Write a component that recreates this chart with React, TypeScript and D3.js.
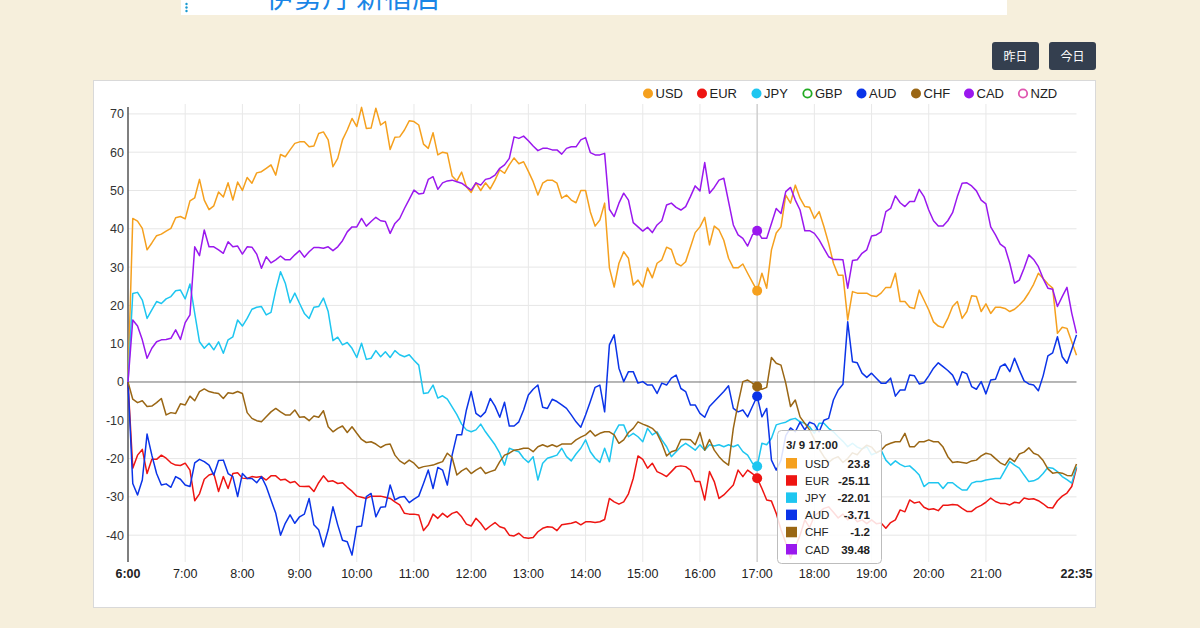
import React from 'react';
import * as d3 from 'd3';

// Currency strength index, 5-minute samples from 6:00 to 22:35 on 3/9
const START = new Date(2024, 2, 9, 6, 0);
const STEP_MINUTES = 5;
const SAMPLE_COUNT = 200;
const TIMES = d3.range(SAMPLE_COUNT).map((i) => d3.timeMinute.offset(START, i * STEP_MINUTES));

const USD = [
  0, 42.7, 42, 40.1, 34.5, 36.3, 38.2, 38.6, 39.4, 40.1, 42.9, 43.2,
  42.6, 47.3, 48.1, 52.9, 47.5, 45, 46, 49.6, 48.3, 52, 47.5, 52.2,
  50, 53.4, 51.9, 54.6, 54.9, 55.8, 56.7, 54, 59.4, 58.8, 60.6, 62.3,
  62.7, 62.7, 61.4, 61.6, 64.9, 65.3, 63.2, 56.2, 58.4, 63.2, 65.8, 68.8,
  66.7, 71.7, 66.2, 66.3, 71.5, 67.1, 68, 60.7, 63.9, 64, 65.8, 68.2,
  68, 67.1, 62.1, 61, 65.1, 59.3, 60, 59.7, 53.8, 52.5, 54.8, 51,
  49.5, 52, 50, 52, 50.4, 52.7, 55.4, 54.5, 56.7, 58.5, 57, 57.5,
  55, 52.3, 48.8, 51.9, 52.7, 52.7, 51.9, 48, 48.8, 47.5, 46.8, 50,
  50, 44.4, 40.7, 42.3, 46.7, 29.8, 24.8, 31, 34, 32.3, 25.3, 26.6,
  24.8, 29.8, 27.2, 31, 31.9, 35.2, 34.6, 31, 30.3, 31.4, 35.2, 39,
  40.5, 43, 35.8, 40.7, 39.7, 37, 32.3, 29.8, 29.8, 30.8, 28.4, 26.1,
  23.8, 28.4, 24.5, 34.5, 38.9, 40.5, 48.8, 46.7, 51.4, 48, 45.8, 45.6,
  42.7, 44.5, 40.6, 36.2, 31, 27.9, 27.9, 16.2, 23.6, 23.2, 23.2, 23.2,
  22.5, 22.3, 23.2, 24.7, 24.7, 28.4, 21, 21, 19.5, 19.2, 24, 21.4,
  18.8, 15.7, 14.6, 14.2, 16.6, 19.7, 21, 16.6, 18.4, 22.5, 22.3, 18.4,
  20.4, 17.9, 19.5, 19.5, 19.2, 18.4, 19, 20.1, 21.4, 23.3, 25.5, 28.4,
  27, 25.6, 24.5, 12.7, 14.3, 14, 10.5, 7,
];

const EUR = [
  0, -22.5, -19.1, -17.6, -23.9, -20.2, -20.2, -19.1, -19.9, -21.1, -21.7, -21.8,
  -21.2, -23, -31, -29.2, -25.4, -24.3, -23.9, -28.6, -24.7, -27.8, -23.9, -23.7,
  -25.1, -25.2, -24.7, -24.9, -24.7, -25.6, -24.5, -24.5, -25.6, -25.4, -26.3, -26,
  -27.2, -27.3, -27.2, -28.6, -26.3, -24.5, -26, -25.8, -26.5, -26.3, -27.5, -28.5,
  -29.8, -30.1, -30.4, -29.8, -29.8, -29.8, -30.1, -30.4, -31.3, -32.1, -34.3, -34.5,
  -34.5, -34.7, -38.8, -37.3, -34.5, -35.6, -34.3, -35.3, -34.3, -33.9, -35.2, -37.1,
  -37.6, -35.6, -36.9, -38.6, -37.6, -36.7, -37.8, -38.2, -40, -40.2, -39.5, -40.6,
  -40.8, -40.6, -39.1, -38.2, -37.8, -37.9, -38.8, -37.3, -37.1, -36.9, -36.5, -37.3,
  -36.5, -36.5, -36.7, -36.5, -35.9, -30.4, -31.3, -31.9, -31.3, -29.2, -25.2, -19.3,
  -20.2, -22.5, -21.2, -23.4, -24, -24.7, -23.4, -22.1, -21.9, -22.1, -23, -26,
  -26, -30.8, -23.4, -26, -30.4, -29.5, -28.2, -26.9, -23, -24.7, -23, -23.9,
  -25.11, -27.8, -30.8, -31.1, -34.3, -38.6, -42, -46, -43, -40, -36, -38,
  -35, -34, -33, -32.6, -34, -35.5, -34.5, -36, -35, -36.5, -36, -37,
  -36, -37, -36.8, -38.2, -36.7, -36, -33.4, -33.9, -30.8, -31.6, -31.3, -32.7,
  -33.3, -33.1, -33.6, -32.2, -32.2, -32, -32.1, -33, -33.8, -33.8, -32.8, -32.2,
  -31.4, -30.3, -31.2, -31.7, -31.7, -32.1, -31.4, -31.6, -30.3, -30.6, -30.5, -31,
  -31.8, -32.8, -32.9, -31, -29.8, -29, -27.3, -22.5,
];

const JPY = [
  0, 23.1, 23.4, 21.4, 16.6, 18.8, 21, 20.5, 21.7, 22.3, 23.8, 24,
  21.7, 25.6, 17.9, 10.5, 8.8, 10.1, 8.4, 10.5, 7.5, 11, 11.8, 16.2,
  14.6, 16.6, 19, 19.5, 19.7, 17.5, 18.2, 24, 28.8, 25.8, 20.7, 23.2,
  20.5, 17.9, 16.6, 19.5, 19.7, 21.9, 18.4, 10.8, 11.7, 9.7, 10.3, 8.8,
  6.4, 10.1, 5.9, 6.2, 8.2, 6.6, 7.9, 6.4, 8.2, 7.1, 6.6, 7.1,
  5.7, 4.4, -3, -2.8, -0.8, -4.2, -3.6, -4.5, -6.5, -8.5, -11, -12.5,
  -13, -12.5, -11, -13, -14.7, -16.4, -18.6, -21.7, -17.3, -17.8, -18.2, -19.9,
  -21, -19.5, -25.6, -21.2, -19.9, -19.5, -19.1, -17.3, -19.5, -20.6, -18.8, -17.3,
  -15.1, -18.2, -19.9, -21, -17.3, -20.8, -13.4, -11.2, -11.2, -14.3, -13.4, -14.3,
  -15.6, -12.1, -13.8, -13, -15.1, -16.9, -19.5, -18.2, -16.9, -16, -16.9, -17.8,
  -16.4, -17.8, -16.4, -16.7, -16.4, -16.9, -16.4, -16.9, -16.4, -18.2, -19.1, -21.2,
  -22.01, -16, -16.4, -14.7, -11.2, -10.8, -10.5, -9.8, -9.5, -10.4, -10.8, -11.7,
  -13.4, -10.8, -10.8, -12.1, -13, -14.3, -15.5, -16.9, -16, -17, -17.5, -16.9,
  -19, -18.5, -17.8, -20.4, -21.7, -20.6, -21.5, -22.1, -21.9, -23, -24.3, -27.3,
  -26.3, -26.3, -26.3, -27.8, -26.3, -26.3, -27.3, -28.2, -28.2, -26.4, -26, -26,
  -25.6, -25.4, -25.2, -25.2, -23, -20.8, -21.7, -22.5, -24.3, -26, -25.8, -25.2,
  -23.9, -22.3, -22.5, -23.4, -24.7, -25.5, -26.4, -22.1,
];

const AUD = [
  0, -26.5, -29.5, -25.6, -13.6, -19.1, -23.9, -26.9, -26.6, -27.5, -24.7, -25.4,
  -26.9, -27.3, -21.1, -20.2, -20.8, -21.7, -24.3, -20.5, -20.4, -23.9, -24.7, -29.9,
  -23.9, -25.2, -25.2, -26.3, -24.7, -27.3, -30.8, -34.3, -40, -36.9, -34.7, -36.9,
  -35.2, -34.5, -30.4, -37.3, -38.6, -43, -38.6, -32.6, -37.3, -41.3, -41.7, -45.2,
  -37.8, -37.6, -29.9, -29.1, -35.2, -32.7, -32.6, -26.9, -30.8, -30.1, -29.9, -31.5,
  -30.6, -29.8, -26.5, -23, -27.8, -22.3, -23, -26.9, -19.1, -13.8, -13.8, -7.3,
  -2.5, -8.2, -9.1, -7.8, -4.3, -6.3, -9.2, -5.3, -11.5, -11.5, -10.4, -7.3,
  -3.4, -1.9, -0.8, -6.6, -6.9, -4.5, -5.1, -6, -6.9, -8.6, -10.4, -11.8,
  -8.6, -5.1, -1.4, -0.8, -7.8, 9.7, 12.3, 3.6, 0.1, 2.7, 2.7, -0.3,
  0.1, -0.8, -0.8, -3, -0.3, -0.8, 1, 1.8, -1.7, -2.5, -6, -6,
  -8.2, -9.2, -6.4, -5.1, -3.8, -2.5, -1, -6.9, -7.8, -7.3, -9.1, -6.4,
  -3.71, -9.1, -6.9, -20.4, -23, -20.4, -14, -12, -13, -10.5, -12.5, -10.5,
  -11, -13, -10, -9.5, -4.7, -2.1, -0.6, 15.7, 5.3, 5, 2.3, 1.2,
  2.3, 1, -0.3, -0.3, 1, -3.7, -2.1, -2.1, 1.8, 1.6, -0.5, -0.2,
  1.6, 3.6, 5, 4, 3, 1.8, -0.8, 2.7, 2.1, -1.2, -1.9, 0.1,
  -3.1, 0.5, 0.7, 4, 4.7, 2.7, 6.2, 3.1, 0.3, -0.5, -0.8, -2.3,
  1.6, 6.8, 7.6, 11.8, 6.6, 4.9, 8.5, 12.3,
];

const CHF = [
  0, -4.5, -5.4, -4.9, -6.4, -6.3, -5.4, -4.3, -8.6, -8, -8.2, -5.7,
  -6, -3.7, -4.9, -2.5, -1.8, -2.5, -2.8, -3, -4.3, -2.8, -3, -2.5,
  -3, -8, -9.5, -10.1, -10.4, -9.1, -7.8, -6.9, -7.8, -8.6, -8.6, -7.3,
  -9.2, -9.1, -10.1, -8.9, -9.2, -7.5, -11.7, -13, -12.1, -11.5, -13.2, -11.7,
  -13.4, -15, -15.8, -15.6, -16.2, -17.1, -16.4, -16.2, -19.1, -20.6, -21.4, -20.4,
  -21.2, -22.5, -22.1, -21.9, -21.7, -21.2, -20.8, -18.6, -19.7, -24.3, -23.2, -22.5,
  -23.9, -23, -22.3, -23.9, -23.4, -23, -20.8, -19.1, -18.6, -17.8, -17.6, -17.3,
  -17.3, -18.2, -16.9, -16.4, -16.9, -16.4, -16.9, -16.2, -16.2, -16.2, -15.1, -14.4,
  -13.8, -12.7, -14.1, -13.4, -13, -13, -13.8, -16, -15.1, -13.2, -12.1, -10.4,
  -11, -11.5, -12.1, -13.4, -16, -19.3, -18.2, -17.8, -15, -15, -15.1, -16.4,
  -13.2, -17.8, -15, -17.8, -19.5, -20.8, -21.7, -12.1, -5.6, 0.1, 0.5, -0.3,
  -1.2, -1.9, -1.4, 6.4, 4.9, 4.4, -0.3, -6.4, -4.7, -9.1, -10.8, -12.5,
  -15, -17.5, -19.5, -21, -20, -19.5, -21, -20, -18.5, -19, -17.5, -16.5,
  -17, -18.5, -17.8, -16.5, -16, -15.6, -15.6, -13.4, -16.9, -16.9, -15.6, -15.6,
  -15.1, -15.6, -15.6, -17, -19.5, -21, -20.8, -21, -21.2, -20.6, -20.4, -19.3,
  -18.6, -18.9, -20, -21.1, -21.7, -19.9, -20.8, -18.8, -18.3, -17.2, -18.6, -19.1,
  -20.5, -22.7, -23.8, -23.6, -23.8, -24.4, -24.5, -21.4,
];

const CAD = [
  0, 16.2, 14.6, 11, 6.2, 8.8, 10.5, 11, 11.1, 11.4, 13.6, 11.1,
  15.5, 17.5, 35.3, 33, 39.7, 35.3, 35.3, 34.5, 33.6, 36.6, 35.3, 35.5,
  33.4, 35.3, 35.2, 33.4, 29.7, 32.7, 31.1, 31.9, 32.9, 31.9, 31.9, 33.2,
  34.3, 32.6, 34, 35.1, 35.1, 34.9, 35.3, 34.3, 35.3, 36.9, 39.2, 40.5,
  40.5, 42.7, 40.7, 41.9, 43, 42.1, 41.9, 38.8, 41.4, 42.7, 45.3, 47.7,
  50.1, 49.1, 49.3, 52.9, 53.6, 50.3, 52, 52.5, 52.7, 52.3, 51.9, 51,
  50.1, 52, 51.4, 52.9, 53.2, 54, 55.8, 56.7, 58.4, 64, 63.6, 64.2,
  63, 61.6, 60.4, 61, 61, 60.6, 60.6, 59.5, 61, 61.4, 61.4, 63.2,
  63.8, 59.9, 59.3, 59.3, 59.7, 45.1, 43.2, 46.7, 49.3, 47.5, 41.6, 40.5,
  39.4, 40.4, 39, 41, 42.1, 46.2, 46.7, 45.6, 44.9, 45.8, 48.4, 51.2,
  49.9, 57.3, 49.3, 50.8, 52.7, 53.2, 47.1, 41, 38.4, 37.5, 35.5, 38.4,
  39.48, 37.5, 37.5, 41.4, 45.3, 44, 49.7, 50.8, 47.5, 44.9, 39.5, 39.5,
  38.8, 37.1, 34.9, 32.7, 32, 32, 31.9, 24.5, 31.7, 31.9, 33.6, 34.5,
  38.1, 38.4, 39.2, 44.5, 45.3, 48.6, 46.8, 45.8, 47.1, 47.1, 50.3, 48.4,
  44.9, 42.1, 40.7, 40.7, 42.1, 44.2, 48.4, 51.9, 52, 51.2, 49.9, 47.5,
  46.5, 40.5, 38.4, 36, 35.1, 31, 25.8, 26.6, 29.7, 33.2, 32, 30.1,
  27, 24.5, 24.2, 19.7, 22.3, 24.7, 18, 12.7,
];

const LEGEND_NAMES = ['USD', 'EUR', 'JPY', 'GBP', 'AUD', 'CHF', 'CAD', 'NZD'];
const HOLLOW_NAMES = ['GBP', 'NZD'];
const COLORS: Record<string, string> = {
  USD: '#f5a01e',
  EUR: '#ee1512',
  JPY: '#1ec6f0',
  GBP: '#22aa22',
  AUD: '#0b34e8',
  CHF: '#9a6614',
  CAD: '#9a18ee',
  NZD: '#e055b0',
};

const SERIES = [
  { name: 'USD', values: USD },
  { name: 'EUR', values: EUR },
  { name: 'JPY', values: JPY },
  { name: 'AUD', values: AUD },
  { name: 'CHF', values: CHF },
  { name: 'CAD', values: CAD },
];

const X_TICK_LABELS = [
  '6:00', '7:00', '8:00', '9:00', '10:00', '11:00', '12:00', '13:00', '14:00',
  '15:00', '16:00', '17:00', '18:00', '19:00', '20:00', '21:00', '22:35',
];
const BOLD_X_LABELS = ['6:00', '22:35'];
const Y_TICKS = [70, 60, 50, 40, 30, 20, 10, 0, -10, -20, -30, -40];
const Y_DOMAIN = [-47, 71.8];

const HOVER_LABEL = '3/ 9 17:00';
const HOVER_TIME = '17:00';

const TITLE = '伊勢丹 新宿店';
const BUTTONS = ['昨日', '今日'];

const FONT = '"Liberation Sans", Arial, Helvetica, sans-serif';
const CJK = '"Noto Sans CJK JP", "Noto Sans", sans-serif';

const parseClock = (s: string) => {
  const [h, m] = s.split(':').map(Number);
  return new Date(2024, 2, 9, h, m);
};

export default function App() {
  const W = 1200;
  const H = 628;
  const plot = { left: 128, right: 1076.5, top: 107, bottom: 562 };

  const x = d3.scaleTime().domain([TIMES[0], TIMES[SAMPLE_COUNT - 1]]).range([plot.left, plot.right]);
  const y = d3.scaleLinear().domain(Y_DOMAIN).range([plot.bottom, plot.top]);

  const line = d3
    .line<number>()
    .x((_, i) => x(TIMES[i]))
    .y((d) => y(d));

  const hoverDate = parseClock(HOVER_TIME);
  const hoverIndex = TIMES.findIndex((t) => t.getTime() === hoverDate.getTime());
  const hx = x(hoverDate);

  const gridHours = X_TICK_LABELS.slice(1, -1).map(parseClock);

  // tooltip box
  const tip = { x: 777.5, y: 430.5, w: 104, h: 133 };
  const rowY = (i: number) => tip.y + 33 + i * 17.2;

  return (
    <svg
      width={W}
      height={H}
      viewBox={`0 0 ${W} ${H}`}
      style={{ position: 'absolute', left: 0, top: 0, display: 'block' }}
    >
      <rect x={0} y={0} width={W} height={H} fill="#f6efdc" />

      {/* page header strip, scrolled so only the foot of the store name shows */}
      <rect x={181} y={0} width={826} height={15} fill="#ffffff" />
      {[4, 7.5, 11].map((cy) => (
        <circle key={cy} cx={186.5} cy={cy} r={1.2} fill="#1a9ad0" />
      ))}
      <text x={266} y={7.5} fontSize={28} fill="#1a86e6" fontFamily={CJK}>
        {TITLE}
      </text>

      {/* day buttons */}
      {BUTTONS.map((b, i) => {
        const bx = 992 + i * 57;
        return (
          <g key={b}>
            <rect x={bx} y={42} width={47} height={28} rx={3} fill="#343f4f" />
            <text x={bx + 23.5} y={60.5} fontSize={12} fill="#ffffff" textAnchor="middle" fontFamily={CJK}>
              {b}
            </text>
          </g>
        );
      })}

      {/* chart panel */}
      <rect x={93.5} y={80.5} width={1002} height={527} fill="#ffffff" stroke="#d9d9d9" />

      {/* legend */}
      {LEGEND_NAMES.map((n, i) => {
        const lx = [648, 702, 756.5, 807.5, 861.5, 916, 969, 1023][i];
        const hollow = HOLLOW_NAMES.includes(n);
        return (
          <g key={n}>
            <circle
              cx={lx}
              cy={93.5}
              r={hollow ? 4.2 : 5}
              fill={hollow ? '#ffffff' : COLORS[n]}
              stroke={hollow ? COLORS[n] : 'none'}
              strokeWidth={hollow ? 1.8 : 0}
            />
            <text x={lx + 7.5} y={98} fontSize={13} fill="#222" fontFamily={FONT}>
              {n}
            </text>
          </g>
        );
      })}

      {/* grid */}
      {Y_TICKS.filter((t) => t !== 0).map((t) => (
        <line key={t} x1={plot.left} x2={plot.right} y1={y(t)} y2={y(t)} stroke="#e6e6e6" strokeWidth={1} />
      ))}
      {gridHours.map((d) => (
        <line key={d.getTime()} x1={x(d)} x2={x(d)} y1={plot.top - 3} y2={plot.bottom} stroke="#e8e8e8" strokeWidth={1} />
      ))}
      <line x1={plot.left} x2={plot.right} y1={y(0)} y2={y(0)} stroke="#6e6e6e" strokeWidth={1} />
      <line x1={hx} x2={hx} y1={plot.top - 3} y2={plot.bottom} stroke="#c9c9c9" strokeWidth={1.2} />

      {/* y axis */}
      <line x1={plot.left} x2={plot.left} y1={plot.top} y2={plot.bottom} stroke="#555" strokeWidth={1.5} />
      {Y_TICKS.map((t) => (
        <text key={t} x={plot.left - 4} y={y(t)} dy="0.36em" fontSize={12.5} fill="#333" textAnchor="end" fontFamily={FONT}>
          {t}
        </text>
      ))}

      {/* x axis labels */}
      {X_TICK_LABELS.map((s) => (
        <text
          key={s}
          x={x(parseClock(s))}
          y={577.5}
          fontSize={12.5}
          fill="#222"
          textAnchor="middle"
          fontWeight={BOLD_X_LABELS.includes(s) ? 'bold' : 'normal'}
          fontFamily={FONT}
        >
          {s}
        </text>
      ))}

      {/* series lines */}
      {SERIES.map((s) => (
        <path key={s.name} d={line(s.values) || ''} fill="none" stroke={COLORS[s.name]} strokeWidth={1.5} strokeLinejoin="round" />
      ))}

      {/* hover markers */}
      {SERIES.map((s) => (
        <circle key={s.name} cx={hx} cy={y(s.values[hoverIndex])} r={5} fill={COLORS[s.name]} />
      ))}

      {/* tooltip */}
      <rect x={tip.x} y={tip.y} width={tip.w} height={tip.h} rx={4} fill="#ffffff" fillOpacity={0.86} stroke="#bdbdbd" />
      <text x={786} y={449} fontSize={11.5} fontWeight="bold" fill="#222" fontFamily={FONT}>
        {HOVER_LABEL}
      </text>
      {SERIES.map((s, i) => (
        <g key={s.name}>
          <rect x={786} y={rowY(i) - 5.5} width={11} height={10.5} fill={COLORS[s.name]} />
          <text x={805} y={rowY(i)} dy="0.36em" fontSize={11.5} fill="#222" fontFamily={FONT}>
            {s.name}
          </text>
          <text x={870} y={rowY(i)} dy="0.36em" fontSize={11.5} fontWeight="bold" fill="#222" textAnchor="end" fontFamily={FONT}>
            {String(s.values[hoverIndex])}
          </text>
        </g>
      ))}
    </svg>
  );
}
